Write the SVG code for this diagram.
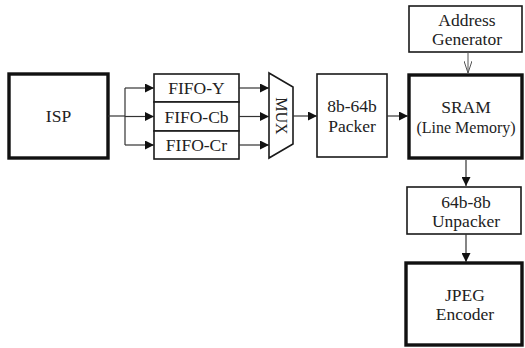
<svg xmlns="http://www.w3.org/2000/svg" width="525" height="348" viewBox="0 0 525 348">
  <style>
    .box { fill: #ffffff; stroke: #1a1a1a; stroke-width: 1.6; }
    .thick { fill: #ffffff; stroke: #111111; stroke-width: 3.4; }
    .wire { fill: none; stroke: #333333; stroke-width: 1.2; }
    .thin { fill: none; stroke: #555555; stroke-width: 1; }
  </style>
  <defs>
    <marker id="arrow" viewBox="0 0 10 10" refX="10" refY="5" markerWidth="10" markerHeight="9" markerUnits="userSpaceOnUse" orient="auto">
      <path d="M0,0 L10,5 L0,10 Z" fill="#111111"/>
    </marker>
    <marker id="vee" viewBox="0 0 12 8" refX="12" refY="4" markerWidth="12" markerHeight="8" markerUnits="userSpaceOnUse" orient="auto">
      <path d="M0,0 L12,4 L0,8" fill="none" stroke="#555555" stroke-width="1"/>
    </marker>
  </defs>

  <g id="isp">
    <rect class="thick" x="9" y="74" width="99" height="84"/>
    <text x="58.5" y="122" font-family="Liberation Serif" font-size="17.5" fill="#222222" text-anchor="middle">ISP</text>
  </g>

  <g id="fifo-y">
    <rect class="box" x="154" y="74" width="85" height="28"/>
    <text x="196.5" y="94" font-family="Liberation Serif" font-size="17.5" fill="#222222" text-anchor="middle">FIFO-Y</text>
  </g>
  <g id="fifo-cb">
    <rect class="box" x="154" y="102" width="85" height="29"/>
    <text x="196.5" y="122.5" font-family="Liberation Serif" font-size="17.5" fill="#222222" text-anchor="middle">FIFO-Cb</text>
  </g>
  <g id="fifo-cr">
    <rect class="box" x="154" y="131" width="85" height="28"/>
    <text x="196.5" y="151" font-family="Liberation Serif" font-size="17.5" fill="#222222" text-anchor="middle">FIFO-Cr</text>
  </g>

  <g id="mux">
    <path class="box" d="M269,73 L293,87 L293,144 L269,158 Z"/>
    <text x="281" y="121.5" font-family="Liberation Serif" font-size="16" fill="#222222" text-anchor="middle" transform="rotate(90 281 116)">MUX</text>
  </g>

  <g id="packer">
    <rect class="box" x="317" y="74" width="70" height="83"/>
    <text x="352" y="112" font-family="Liberation Serif" font-size="17.5" fill="#222222" text-anchor="middle">8b-64b</text>
    <text x="352" y="132" font-family="Liberation Serif" font-size="17.5" fill="#222222" text-anchor="middle">Packer</text>
  </g>

  <g id="address-generator">
    <rect class="box" x="409" y="6" width="113" height="46"/>
    <text x="467" y="26" font-family="Liberation Serif" font-size="17.5" fill="#222222" text-anchor="middle">Address</text>
    <text x="467" y="45" font-family="Liberation Serif" font-size="17.5" fill="#222222" text-anchor="middle">Generator</text>
  </g>

  <g id="sram">
    <rect class="thick" x="409" y="75" width="113" height="83"/>
    <text x="466" y="113" font-family="Liberation Serif" font-size="17.5" fill="#222222" text-anchor="middle">SRAM</text>
    <text x="466" y="133" font-family="Liberation Serif" font-size="16" fill="#222222" text-anchor="middle">(Line Memory)</text>
  </g>

  <g id="unpacker">
    <rect class="box" x="407" y="187" width="114" height="47"/>
    <text x="466" y="208" font-family="Liberation Serif" font-size="17.5" fill="#222222" text-anchor="middle">64b-8b</text>
    <text x="466" y="227" font-family="Liberation Serif" font-size="17.5" fill="#222222" text-anchor="middle">Unpacker</text>
  </g>

  <g id="jpeg-encoder">
    <rect class="thick" x="406" y="263" width="116" height="82"/>
    <text x="465" y="301" font-family="Liberation Serif" font-size="17.5" fill="#222222" text-anchor="middle">JPEG</text>
    <text x="465" y="320" font-family="Liberation Serif" font-size="17.5" fill="#222222" text-anchor="middle">Encoder</text>
  </g>

  <g id="connectors">
    <path class="wire" d="M108,116 L125,116"/>
    <path class="wire" d="M125,88 L125,145"/>
    <path class="wire" d="M125,88 L154,88" marker-end="url(#arrow)"/>
    <path class="wire" d="M125,116.5 L154,116.5" marker-end="url(#arrow)"/>
    <path class="wire" d="M125,145 L154,145" marker-end="url(#arrow)"/>
    <path class="wire" d="M239,88 L269,88" marker-end="url(#arrow)"/>
    <path class="wire" d="M239,116.5 L269,116.5" marker-end="url(#arrow)"/>
    <path class="wire" d="M239,145 L269,145" marker-end="url(#arrow)"/>
    <path class="wire" d="M293,116 L317,116" marker-end="url(#arrow)"/>
    <path class="wire" d="M387,116 L408,116" marker-end="url(#arrow)"/>
    <path class="thin" d="M468,52 L468,73" marker-end="url(#vee)"/>
    <path class="wire" d="M466,160 L466,186" marker-end="url(#arrow)"/>
    <path class="wire" d="M466,234 L466,262" marker-end="url(#arrow)"/>
  </g>
</svg>
